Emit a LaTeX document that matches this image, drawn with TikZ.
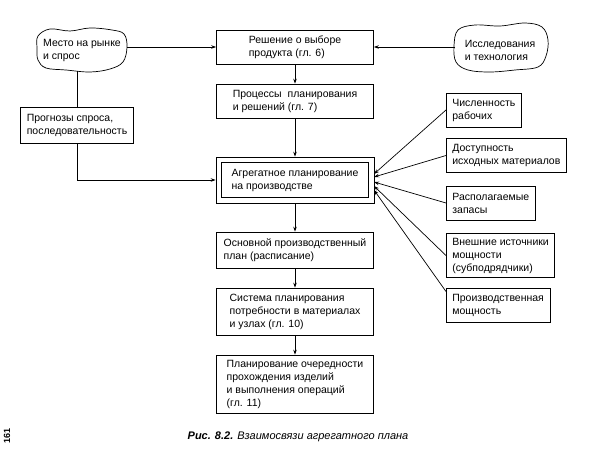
\documentclass[tikz,border=0pt]{standalone}
\usepackage{fontspec}
\setmainfont{Liberation Sans}
\usetikzlibrary{arrows.meta}

\begin{document}
\begin{tikzpicture}[x=1pt,y=-1pt,line width=0.7pt,
  box/.style={draw,align=left,font=\fontsize{10.5}{13}\selectfont,inner xsep=6pt,inner ysep=4pt,minimum height=34pt},
  mainbox/.style={box,minimum width=157pt},
  sidebox/.style={box,anchor=west},
  lbl/.style={align=left,font=\fontsize{10.5}{13}\selectfont,inner sep=0pt},
  arr/.style={-{Stealth[length=5pt,width=3.5pt]}}]
\useasboundingbox (0,0) rectangle (611,465);
% clouds
\node[lbl] (mesto) at (82,50) {Место на рынке\\и спрос};
\draw plot[smooth cycle,tension=0.6] coordinates {(38,36) (50,29) (70,31) (90,28) (112,30) (124,34) (127,47) (123,62) (110,69) (90,72) (66,70) (46,68) (38,60) (37,48)};
\node[lbl] (issl) at (500,50) {Исследования\\и технология};
\draw plot[smooth cycle,tension=0.6] coordinates {(458,30) (475,25) (500,26) (525,23) (542,27) (548,40) (546,56) (538,67) (515,70) (490,72) (468,70) (456,62) (454,46)};
\coordinate (mesto-e) at (127,47);
\coordinate (mesto-s) at (77,71);
\coordinate (issl-w) at (455,47);
% main column
\node[mainbox] (reshenie) at (295,47) {Решение о выборе\\продукта (гл. 6)};
\node[mainbox] (processy) at (295,101) {Процессы\ \ планирования\\и решений (гл. 7)};
\node[box,minimum width=158pt,minimum height=46pt] (agreg) at (295,180) {};
\draw ([shift={(6pt,-6pt)}]agreg.north west) rectangle ([shift={(-6pt,6pt)}]agreg.south east);
\node[lbl] (agregtext) at (agreg) {Агрегатное планирование\\на производстве};
\node[mainbox,minimum height=36pt] (osnovnoy) at (295,250) {Основной производственный\\план (расписание)};
\node[mainbox,minimum height=47pt] (sistema) at (295,311.5) {Система планирования\\потребности в материалах\\и узлах (гл. 10)};
\node[mainbox,minimum height=58pt] (ocherednost) at (295,384) {Планирование очередности\\прохождения изделий\\и выполнения операций\\(гл. 11)};
\node[box,minimum height=36pt] (prognoz) at (77,125) {Прогнозы спроса,\\последовательность};
% connectors
\draw[arr] (mesto-e) -- (reshenie.west);
\draw[arr] (issl-w) -- (reshenie.east);
\draw (mesto-s) -- (prognoz.north);
\draw[arr] (prognoz.south) |- (agreg.west);
\foreach \a/\b in {reshenie/processy,processy/agreg,agreg/osnovnoy,osnovnoy/sistema,sistema/ocherednost}
  \draw[arr] (\a.south) -- (\b.north);
% resources
\foreach \n/\y/\e/\s/\t in {chisl/110/174/180/{Численность\\рабочих},
  dost/155.5/177/180/{Доступность\\исходных материалов},
  zapas/203/182/180/{Располагаемые\\запасы},
  vnesh/255.5/186/180/{Внешние источники\\мощности\\(субподрядчики)},
  moshch/305.5/190/165/{Производственная\\мощность}}{
  \node[sidebox] (\n) at (446,\y) {\t};
  \coordinate (t-\n) at (374,\e);
  \draw[arr] (\n.\s) -- (t-\n);
}
% caption
\node[font=\fontsize{11}{13}\selectfont\itshape] (caption) at (298,437) {\textbf{Рис. 8.2.} Взаимосвязи агрегатного плана};
\node[rotate=90,font=\fontsize{9}{10}\selectfont\bfseries] (page) at (7,436) {161};
\end{tikzpicture}
\end{document}
